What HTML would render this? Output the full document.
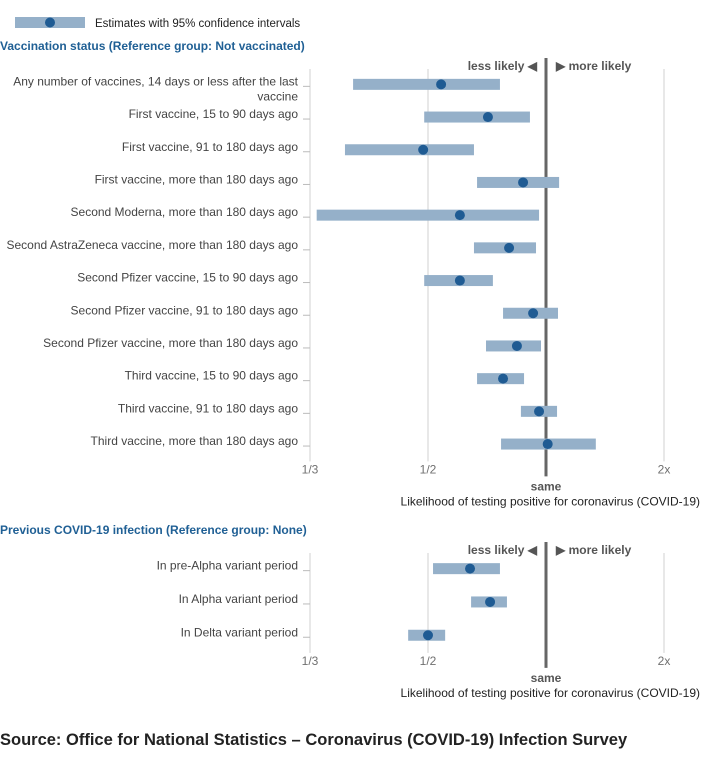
<!DOCTYPE html>
<html><head><meta charset="utf-8"><style>
body{margin:0;background:#fff;width:705px;height:757px;overflow:hidden;font-family:"Liberation Sans",sans-serif}
svg text{font-family:"Liberation Sans",sans-serif}
</style></head><body>
<svg id="chart" width="705" height="757" xmlns="http://www.w3.org/2000/svg">
<g>
<rect x="15" y="17" width="70" height="11" fill="#95b0c9"/>
<circle cx="50" cy="22.5" r="5" fill="#1f5b93"/>
<text x="95" y="27" font-size="11.5" fill="#222">Estimates with 95% confidence intervals</text>
</g>
<text x="0" y="50" font-size="12" font-weight="bold" fill="#206095">Vaccination status (Reference group: Not vaccinated)</text>
<text x="0" y="534" font-size="12" font-weight="bold" fill="#206095">Previous COVID-19 infection (Reference group: None)</text>
<text x="0" y="745" font-size="16.5" font-weight="bold" fill="#222">Source: Office for National Statistics – Coronavirus (COVID-19) Infection Survey</text>
<g id="p1"></g><g id="p2"></g>
</svg>
<script>
const labels1=["Any number of vaccines, 14 days or less after the last|vaccine","First vaccine, 15 to 90 days ago","First vaccine, 91 to 180 days ago","First vaccine, more than 180 days ago","Second Moderna, more than 180 days ago","Second AstraZeneca vaccine, more than 180 days ago","Second Pfizer vaccine, 15 to 90 days ago","Second Pfizer vaccine, 91 to 180 days ago","Second Pfizer vaccine, more than 180 days ago","Third vaccine, 15 to 90 days ago","Third vaccine, 91 to 180 days ago","Third vaccine, more than 180 days ago"];
const est1=[0.54,0.711,0.486,0.874,0.603,0.805,0.603,0.927,0.843,0.777,0.96,1.01];
const lo1=[0.322,0.489,0.307,0.667,0.26,0.655,0.489,0.777,0.703,0.667,0.863,0.768];
const hi1=[0.763,0.91,0.655,1.08,0.96,0.943,0.732,1.073,0.971,0.879,1.067,1.34];
const labels2=["In pre-Alpha variant period","In Alpha variant period","In Delta variant period"];
const est2=[0.64,0.72,0.5];
const lo2=[0.515,0.644,0.445];
const hi2=[0.763,0.795,0.553];
const tickVals=[0.25,0.5,2];
const tickLabels=["1/3","1/2","2x"];
const NS="http://www.w3.org/2000/svg";
function xs(v){return 546+118*Math.log2(v);}
function mk(p,t,a){const e=document.createElementNS(NS,t);for(const k in a)e.setAttribute(k,a[k]);p.appendChild(e);return e;}
function panel(g,labels,est,lo,hi,top,rowH){
  const n=labels.length, bottom=top+rowH*n;
  tickVals.forEach((v,i)=>{
    const l=mk(g,'line',{x1:xs(v),x2:xs(v),y1:top+1,y2:bottom+1,stroke:'#d0d0d0','stroke-width':1});
    
    
    const t=mk(g,'text',{x:xs(v),y:bottom+13,'text-anchor':'middle','font-size':12,fill:'#707070'});
    t.textContent=tickLabels[i];
    
    
  });
  const r=mk(g,'line',{x1:xs(1),x2:xs(1),y1:top-10,y2:bottom+16,stroke:'#666','stroke-width':3});
  
  
  const ll=mk(g,'text',{x:537,y:top+2,'text-anchor':'end','font-size':12,'font-weight':'bold',fill:'#555'});ll.textContent='less likely ◀';
  
  
  const ml=mk(g,'text',{x:556,y:top+2,'font-size':12,'font-weight':'bold',fill:'#555'});ml.textContent='▶ more likely';
  
  
  const s=mk(g,'text',{x:546,y:bottom+30,'text-anchor':'middle','font-size':12,'font-weight':'bold',fill:'#555'});s.textContent='same';
  
  
  const xt=mk(g,'text',{x:700,y:bottom+45,'text-anchor':'end','font-size':12,fill:'#222'});xt.textContent='Likelihood of testing positive for coronavirus (COVID-19)';
  
  
  labels.forEach((lab,i)=>{
    const cy=top+rowH*i+rowH/2;
    mk(g,'line',{x1:303,x2:310,y1:cy+2,y2:cy+2,stroke:'#bbb'});
    const parts=lab.split('|');
    parts.forEach((p,j)=>{
      const t=mk(g,'text',{x:298,y:cy+1+j*15,'text-anchor':'end','font-size':12,fill:'#444'});t.textContent=p;
      
      
    });
    const b=mk(g,'rect',{x:xs(lo[i]),y:cy-5.5,width:xs(hi[i])-xs(lo[i]),height:11,fill:'#95b0c9'});
    
    
    const c=mk(g,'circle',{cx:xs(est[i]),cy:cy,r:5,fill:'#1f5b93'});
    
    
  });
}
panel(document.getElementById('p1'),labels1,est1,lo1,hi1,68,32.7);
panel(document.getElementById('p2'),labels2,est2,lo2,hi2,552,33.3);
</script>
</body></html>
